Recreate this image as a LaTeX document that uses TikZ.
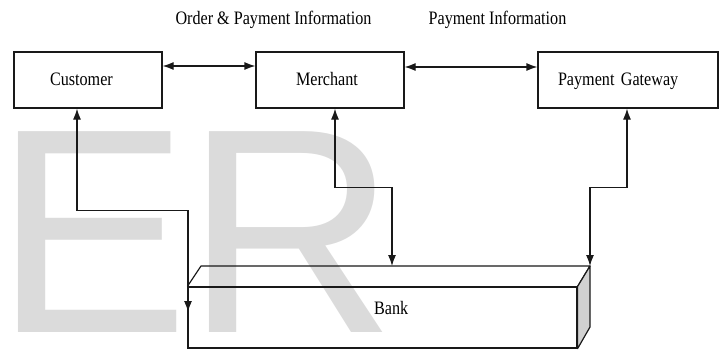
\documentclass[tikz,border=0pt]{standalone}
\usepackage{fontspec}
\setmainfont{Liberation Serif}[FakeStretch=0.85]
\newfontfamily\wmfont{Liberation Sans}
\usetikzlibrary{arrows.meta}
\begin{document}
\begin{tikzpicture}[x=1pt,y=-1pt,
  txt/.style={font=\fontsize{19}{21}\selectfont},
  box/.style={txt, draw=black!90, line width=1.2pt, minimum height=56pt, align=left,
    inner ysep=0pt, text height=14pt, text depth=4pt},
  lbl/.style={txt, inner sep=0pt, anchor=base},
  conn/.style={draw=black!90, line width=1.2pt},
  tip/.tip={Latex[length=11pt,width=8pt]},
  arr/.style={conn, -tip},
  biarr/.style={conn, tip-tip},
  wm/.style={text=black!14, font=\wmfont\fontsize{292}{292}\selectfont, inner sep=0pt, anchor=base west}]
\useasboundingbox (0,0) rectangle (724,349);
% watermark
\node[wm] (wmE) at (-6,332) {E};
\node[wm] (wmR) at (185,332) {R};
% boxes
\node[box, text width=76pt, inner xsep=36pt] (cust) at (88,80) {Customer};
\node[box, text width=68pt, inner xsep=40pt] (merch) at (330,80) {Merchant};
\node[box, text width=140pt, inner xsep=20pt] (pg) at (628,80) {Payment Gateway};
% top labels
\node[lbl] (l1) at (273.5,24) {Order \& Payment Information};
\node[lbl] (l2) at (497.5,24) {Payment Information};
% bank 3D box
\node[draw=black!90, line width=1.2pt, minimum width=389pt, minimum height=61pt, inner sep=0pt] (bank) at (382.5,317.5) {};
\node[lbl, anchor=base west] (banklbl) at (374,314) {Bank};
\coordinate (btl) at (201,266);
\coordinate (btr) at (590,266);
\coordinate (bbr) at (590,327);
\coordinate (mb) at (392,266);
\coordinate (cb) at (188,312);
\draw[conn, line join=round] (bank.north west) -- (btl) -- (btr) -- (bank.north east);
\filldraw[conn, fill=black!18, line join=round] (bank.north east) -- (btr) -- (bbr) -- (bank.south east) -- cycle;
% connectors
\draw[biarr] ([yshift=14pt]cust.east) -- ([yshift=14pt]merch.west);
\draw[biarr] ([yshift=13pt]merch.east) -- ([yshift=13pt]pg.west);
\draw[biarr] ([xshift=-11pt]cust.south) -- ++(0,102) -| (cb);
\draw[biarr] ([xshift=5pt]merch.south) -- ++(0,79) -| (mb);
\draw[biarr] ([xshift=-1pt]pg.south) -- ++(0,79) -| (btr);
\end{tikzpicture}
\end{document}
